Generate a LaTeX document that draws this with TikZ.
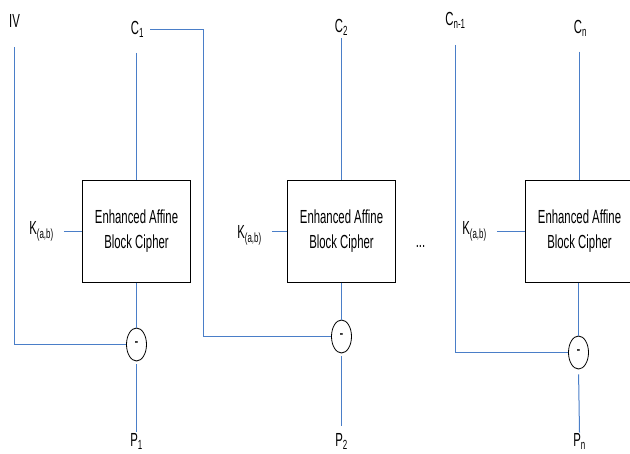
\documentclass[tikz,border=0pt]{standalone}
\usepackage{fontspec}
\setmainfont{Liberation Sans}[FakeStretch=0.6]
\usetikzlibrary{positioning,shapes.geometric}

\definecolor{wireblue}{HTML}{4A7EC8}
\newcommand{\cbfont}{\fontsize{19}{25}\selectfont}

\tikzset{
  wire/.style={draw=wireblue, line width=1bp},
  cipherbox/.style={draw, line width=1bp, minimum width=108bp, minimum height=101bp,
    align=center, font=\cbfont},
  minusnode/.style={draw, ellipse, line width=0.8bp, minimum width=20bp, minimum height=33bp,
    inner sep=0pt, font=\cbfont},
  lbl/.style={inner sep=1bp, font=\cbfont}
}

\begin{document}
\begin{tikzpicture}[x=1bp,y=-1bp]
\useasboundingbox (-0.5,-0.5) rectangle (629.5,453.5);

% cipher blocks
\node[cipherbox] (box1) at (136,231) {Enhanced Affine\\Block Cipher};
\node[cipherbox] (box2) at (341,231) {Enhanced Affine\\Block Cipher};
\node[cipherbox] (box3) at (579,231) {Enhanced Affine\\Block Cipher};

% subtraction nodes
\node[minusnode] (m1) at (136,344) {-};
\node[minusnode] (m2) at (341,336) {-};
\node[minusnode] (m3) at (578,352) {-};

% labels
\node[lbl] (iv) at (14,20) {IV};
\node[lbl] (c1) at (137,29) {C\textsubscript{1}};
\node[lbl] (c2) at (341,27) {C\textsubscript{2}};
\node[lbl] (cn1) at (455,20) {C\textsubscript{n-1}};
\node[lbl] (cn) at (580,28) {C\textsubscript{n}};
\node[lbl] (k1) at (41,231) {K\textsubscript{(a,b)}};
\node[lbl] (k2) at (249,235) {K\textsubscript{(a,b)}};
\node[lbl] (k3) at (474,231) {K\textsubscript{(a,b)}};
\node[lbl] (dots) at (420,246) {...};
\node[lbl] (p1) at (136,441) {P\textsubscript{1}};
\node[lbl] (p2) at (341,441) {P\textsubscript{2}};
\node[lbl] (pn) at (579,441) {P\textsubscript{n}};

\coordinate (turn1) at (203,336);

% ciphertext inputs
\draw[wire, shorten <=14bp] (box1.north |- c1.south) -- (box1.north);
\draw[wire, shorten <=1bp] (box2.north |- c2.south) -- (box2.north);
\draw[wire, shorten <=14bp] (box3.north |- cn.south) -- (box3.north);

% keys
\draw[wire, shorten <=9bp] (k1.east |- box1.west) -- (box1.west);
\draw[wire, shorten <=9bp] (k2.east |- box2.west) -- (box2.west);
\draw[wire, shorten <=9bp] (k3.east |- box3.west) -- (box3.west);

% block outputs
\draw[wire] (box1.south -| m1.north) -- (m1.north);
\draw[wire] (box2.south -| m2.north) -- (m2.north);
\draw[wire] (box3.south -| m3.north) -- (m3.north);

% chaining
\draw[wire, shorten <=19bp] (iv.south) |- (m1.west);
\draw[wire, shorten <=5bp] (c1.east) -| (turn1) -- (m2.west);
\draw[wire, shorten <=15bp] (cn1.south) |- (m3.west);

% plaintext outputs
\draw[wire, shorten <=3bp] (m1.south) -- (p1.north);
\draw[wire, shorten <=3bp, shorten >=6bp] (m2.south) -- (p2.north);
\draw[wire, shorten <=5bp] (m3.south) -- (pn.north);
\end{tikzpicture}
\end{document}
